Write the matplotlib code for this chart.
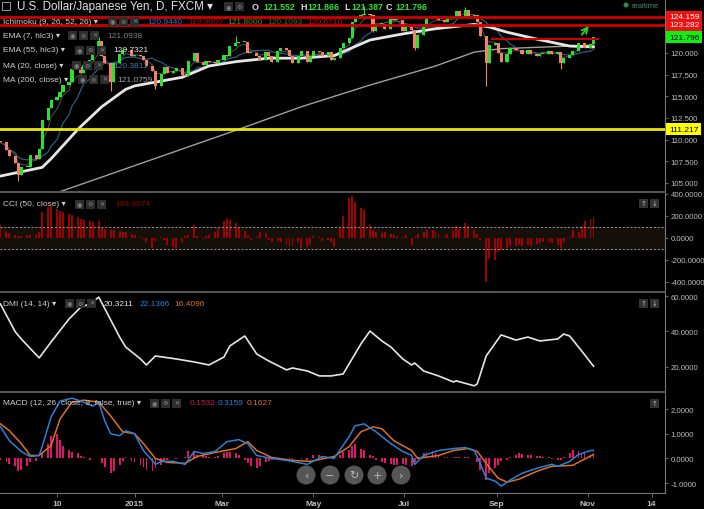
import matplotlib
matplotlib.use('Agg')
import matplotlib.pyplot as plt
import matplotlib.dates as mdates
from matplotlib.patches import Rectangle, Circle
import numpy as np
import pandas as pd

plt.rcParams['font.family'] = ['Liberation Sans', 'DejaVu Sans']

# USD/JPY, one candle per two business days from 2014-10-03
closes = [109.7, 108.8, 108.1, 107.3, 105.9, 106.9, 106.9, 108.2, 107.8, 108.9, 112.3,
          113.6, 114.6, 114.9, 115.5, 116.3, 116.6, 118.2, 118.4, 117.7, 118.6,
          119.2, 119.8, 121.4, 119.6, 118.8, 116.6, 118.8, 119.9, 120.4, 120.4, 119.6,
          119.8, 119.6, 119.2, 118.5, 117.9, 116.2, 117.6, 118.4, 117.7, 117.9, 118.3,
          117.5, 117.3, 119.1, 120.0, 119.0, 118.6, 119.1, 119.0, 118.9, 119.2,
          119.8, 119.7, 120.8, 121.1, 121.3, 121.3, 120.0, 120.0, 119.7, 119.2, 120.1,
          119.7, 119.0, 120.2, 120.6, 120.3, 119.6, 118.9, 119.6, 120.2, 119.0, 119.6,
          120.2, 120.1, 119.7, 120.1, 119.2, 119.4, 120.6, 121.1, 121.7, 123.6, 124.1,
          124.4, 124.5, 124.4, 122.5, 123.4, 123.4, 122.8, 123.9, 123.8, 123.8, 122.5,
          123.2, 122.6, 120.6, 122.1, 123.4, 124.0, 124.3, 124.0, 123.8, 123.6, 124.1,
          124.0, 124.8, 124.3, 125.0, 124.3, 124.4, 123.6, 122.0, 118.9, 120.9, 121.2,
          120.0, 119.0, 119.9, 120.6, 120.3, 120.3, 119.9, 120.3, 119.9, 119.7, 119.9,
          119.9, 120.2, 119.9, 120.1, 118.9, 119.4, 119.8, 120.2, 121.1, 121.1, 120.6,
          121.0, 121.8]
first_open = 109.9
hi_idx = [23, 56, 87, 111]
hi_val = [121.85, 122.0, 125.4, 125.3]
lo_idx = [4, 26, 37, 89, 99, 116, 134]
lo_val = [105.2, 115.6, 115.85, 122.4, 120.4, 116.15, 118.1]

ema55_idx = [0, 10, 12, 18, 24, 30, 32, 43, 50, 56, 64, 72, 80, 84, 88, 96, 104, 113, 117, 121, 128, 136, 142]
ema55_val = [105.8, 106.8, 107.8, 111.2, 113.8, 115.8, 116.2, 117.2, 118.5, 119.0, 119.4, 119.4,
             119.7, 120.6, 121.5, 122.2, 122.8, 123.3, 123.0, 122.4, 121.6, 120.8, 120.7]
ma200_idx = [0, 14, 57, 72, 88, 104, 113, 120, 142]
ma200_val = [101.7, 104.0, 111.2, 113.8, 116.3, 118.5, 120.1, 120.5, 120.9]

levels_red = [124.159, 123.282]
level_yellow = 111.217
last_close = 121.796
neck_dates = ['2015-08-29', '2015-11-08']
neck_level = 121.6
arrow_from = ('2015-10-27', 121.85)
arrow_to = ('2015-11-03', 123.35)

cci = [120, 60, 45, 30, 20, 20, 25, 25, 30, 55,
       240, 280, 295, 260, 245, 235, 215, 205, 190, 170,
       160, 150, 145, 150, 90, 80, 70, 75, 60, 55,
       50, 35, 30, 15, -10, -40, -95, -30, 10, -20,
       -60, -80, -95, -40, 20, 30, 120, 20, -10, 15,
       30, 55, 90, 150, 175, 165, 140, 95, 60, 30,
       -15, 10, 50, 45, -20, -40, -30, -35, -60, -80,
       -75, -40, -90, -85, -60, 20, 5, -30, -20, -40,
       -85, 90, 200, 360, 380, 330, 270, 250, 120, 70,
       55, 45, 50, 40, 25, 15, 10, 25, -60, 10,
       40, 55, 75, 70, 55, 35, 20, 40, 60, 110,
       80, 140, 110, 75, 40, -20, -400, -180, -200, -130,
       -110, -95, -75, -70, -65, -70, -60, -70, -55, -50,
       -40, -40, -45, -60, -90, -40, 10, 70, 50, 110,
       150, 170, 194]

dmi_idx = [0, 3, 5, 9, 12, 16, 19, 21, 23, 28, 30, 33, 35, 37, 42, 46, 50, 53, 55, 58,
           61, 64, 68, 70, 73, 76, 79, 82, 86, 88, 91, 93, 96, 98, 99, 101, 105, 108, 109,
           113, 114, 116, 120, 123, 126, 129, 133, 135, 136, 139, 142]
dmi_val = [55.5, 39.7, 35.7, 25.0, 34.0, 47.0, 53.8, 55.5, 59.4, 36.8, 31.2, 24.4, 21.0, 26.1,
           24.4, 22.7, 21.0, 25.5, 31.8, 37.4, 27.2, 23.3, 18.2, 19.3, 17.6, 14.8, 14.8, 15.9,
           33.0, 40.2, 34.6, 31.2, 24.4, 21.0, 22.1, 17.6, 14.8, 11.4, 12.0, 9.2, 10.3, 26.1,
           38.0, 35.1, 36.8, 34.6, 35.7, 38.5, 37.4, 29.0, 20.3]

macd_idx = [0, 2, 5, 7, 9, 10, 12, 14, 17, 19, 22, 23, 25, 26, 28, 30, 32, 34, 37, 38,
            41, 44, 46, 48, 51, 54, 57, 59, 61, 65, 68, 70, 73, 77, 80, 83, 85, 87, 90, 93,
            96, 98, 99, 101, 105, 108, 111, 113, 115, 116, 118, 120, 122, 125, 128, 132,
            133, 136, 138, 141, 142]
macd_val = [1.28, 0.72, 0.28, 0.08, 0.12, 0.48, 1.68, 2.32, 2.44, 2.32, 2.12, 2.28, 1.52, 1.0,
            0.92, 1.12, 1.0, 0.32, -0.24, -0.12, -0.12, -0.24, 0.28, 0.2, 0.28, 0.68, 0.76,
            0.6, 0.12, 0.0, -0.08, -0.12, -0.24, 0.08, 0.0, 0.88, 1.32, 1.4, 1.08, 0.6, 0.28,
            0.12, -0.24, 0.12, 0.32, 0.4, 0.44, 0.32, -0.2, -0.8, -0.92, -1.12, -0.88, -0.6,
            -0.4, -0.24, -0.32, -0.12, 0.16, 0.32, 0.32]
sig_idx = [0, 2, 5, 7, 9, 12, 14, 17, 20, 23, 26, 29, 32, 34, 37, 40, 44, 47, 51, 56,
           59, 61, 65, 70, 74, 80, 83, 86, 89, 91, 94, 98, 100, 105, 108, 112, 114, 116,
           119, 121, 124, 128, 132, 137, 142]
sig_val = [1.4, 1.12, 0.6, 0.12, 0.12, 0.52, 1.6, 2.28, 2.36, 2.28, 1.72, 1.08, 1.0, 0.6, 0.0,
           -0.16, -0.2, 0.08, 0.24, 0.4, 0.68, 0.32, 0.04, -0.08, -0.12, 0.08, 0.48, 1.08,
           1.28, 1.2, 0.72, 0.32, 0.0, 0.12, 0.32, 0.4, 0.28, -0.2, -0.8, -0.96, -0.84, -0.52,
           -0.32, -0.28, 0.16]
macd_hist = [-0.07, -0.15, -0.22, -0.3, -0.5, -0.45, -0.3, -0.15, -0.1, 0.02,
             0.2, 0.6, 0.9, 1.0, 0.75, 0.5, 0.35, 0.25, 0.2, 0.1,
             0.05, -0.05, 0.03, 0.02, -0.2, -0.35, -0.6, -0.5, -0.25, -0.12,
             0.07, -0.1, -0.15, -0.25, -0.35, -0.45, -0.5, -0.4, -0.25, -0.12,
             -0.05, 0.03, -0.03, 0.02, 0.05, 0.3, 0.3, 0.15, 0.12, 0.1,
             0.06, 0.05, 0.08, 0.2, 0.25, 0.27, 0.22, 0.15, -0.05, -0.2,
             -0.3, -0.4, -0.3, -0.15, -0.1, -0.06, -0.04, -0.03, 0.02, -0.03,
             -0.05, 0.03, -0.03, -0.06, 0.03, 0.12, 0.13, 0.1, 0.04, 0.02,
             0.05, 0.15, 0.25, 0.35, 0.5, 0.6, 0.4, 0.33, 0.15, 0.08,
             -0.05, -0.13, -0.2, -0.22, -0.25, -0.25, -0.22, -0.25, -0.3, -0.15,
             0.05, 0.2, 0.28, 0.3, 0.22, 0.12, 0.07, 0.05, 0.04, 0.06,
             0.05, 0.07, 0.04, 0.02, -0.13, -0.45, -0.87, -0.6, -0.4, -0.25,
             -0.12, -0.05, 0.05, 0.15, 0.2, 0.18, 0.15, 0.12, 0.1, 0.08,
             0.06, 0.04, -0.03, -0.07, -0.05, 0.05, 0.2, 0.33, 0.3, 0.22,
             0.2, 0.15, 0.15]

date_ticks = ['2014-11-10', '2015-01-01', '2015-03-01', '2015-05-01', '2015-07-01',
              '2015-09-01', '2015-11-01', '2015-12-14']
date_labels = ['10', '2015', 'Mar', 'May', 'Jul', 'Sep', 'Nov', '14']

dates = pd.date_range('2014-10-03', periods=len(closes), freq='2B')
xd = mdates.date2num(dates)
close = pd.Series(closes)
opens = np.array([first_open] + closes[:-1])
c = np.array(closes)
highs = np.maximum(opens, c)
lows = np.minimum(opens, c)
for i, v in zip(hi_idx, hi_val):
    highs[i] = v
for i, v in zip(lo_idx, lo_val):
    lows[i] = v
ema7 = close.ewm(span=4, adjust=False).mean()
ma20 = close.rolling(10, min_periods=1).mean()

W, H = 704, 510
BG = 'black'
GRAY = '#bdbdbd'
fig = plt.figure(figsize=(W / 100, H / 100), dpi=100, facecolor=BG)


def panel(top, bottom):
    a = fig.add_axes([0, 1 - bottom / H, 665 / W, (bottom - top) / H])
    a.set_facecolor(BG)
    a.set_xlim(mdates.date2num(pd.Timestamp('2014-10-02 17:00')),
               mdates.date2num(pd.Timestamp('2015-12-23')))
    for s in ['left', 'bottom']:
        a.spines[s].set_visible(False)
    a.spines['right'].set_color('#777777')
    a.spines['top'].set_color('#555555')
    a.spines['top'].set_linewidth(1.5)
    a.yaxis.tick_right()
    a.tick_params(axis='y', colors='#777777', labelcolor=GRAY, labelsize=5.6, length=2.5,
                  width=0.6, pad=1.5)
    a.tick_params(axis='x', bottom=False, labelbottom=False)
    return a


def fx(x):
    return x / W


def fy(y):
    return 1 - y / H


ax = panel(0, 193)
ax.spines['top'].set_visible(False)
ax_cci = panel(193, 293)
ax_dmi = panel(293, 393)
ax_macd = panel(393, 494)
ax_macd.spines['bottom'].set_visible(True)
ax_macd.spines['bottom'].set_color('#777777')

# ---- main price panel
ax.set_ylim(103.96, 126.23)
yt = [105, 107.5, 110, 112.5, 115, 117.5, 120]
ax.set_yticks(yt)
ax.set_yticklabels(['%.3f' % v for v in yt])

ax.plot(xd[ma200_idx], ma200_val, color='#a0a0a0', lw=1.0, zorder=2)
ax.plot(xd, ma20, color='#2a5d80', lw=0.9, zorder=2)
ax.plot(xd, ema7, color='#4a4a4a', lw=0.8, zorder=2)
ax.plot(xd[ema55_idx], ema55_val, color='#e6e6e6', lw=2.0, zorder=2)

cols = np.where(c >= opens, '#2ee02e', '#f0826a')
ax.vlines(xd, lows, highs, colors=cols, lw=0.8, zorder=3)
ax.bar(xd, np.maximum(np.abs(c - opens), 0.1), bottom=np.minimum(opens, c), width=2.1,
       color=cols, zorder=4)

for lv in levels_red:
    ax.axhline(lv, color='#d00000', lw=2, zorder=5)
ax.axhline(level_yellow, color='#e8e800', lw=2, zorder=5)
ax.plot(pd.to_datetime(neck_dates), [neck_level, neck_level], color='#d00000', lw=1.5, zorder=5)
ax.annotate('', xy=(mdates.date2num(pd.Timestamp(arrow_to[0])), arrow_to[1]),
            xytext=(mdates.date2num(pd.Timestamp(arrow_from[0])), arrow_from[1]),
            arrowprops=dict(arrowstyle='->', color='#22dd22', lw=1.3), zorder=6)

tr = ax.get_yaxis_transform()
for lv, fc, tc in [(levels_red[0], '#ee1111', 'white'), (levels_red[1], '#ee1111', 'white'),
                   (last_close, '#11ee11', 'black'), (level_yellow, '#ffff00', 'black')]:
    ax.text(1.006, lv, '%.3f' % lv, transform=tr, fontsize=6, color=tc, va='center',
            ha='left', clip_on=False, zorder=10,
            bbox=dict(boxstyle='square,pad=0.3', fc=fc, ec='none'))

# ---- CCI
ax_cci.set_ylim(-492, 418)
ax_cci.set_yticks([-400, -200, 0, 200, 400])
ax_cci.set_yticklabels(['%.4f' % v for v in [-400, -200, 0, 200, 400]])
ax_cci.axhspan(-100, 100, color='#15100a', zorder=0)
ax_cci.axhline(100, color='#999999', lw=0.7, ls=(0, (2, 2)), zorder=3)
ax_cci.axhline(-100, color='#999999', lw=0.7, ls=(0, (2, 2)), zorder=3)
ax_cci.bar(xd, cci, width=1.3, color='#a00000', zorder=2)

# ---- DMI
ax_dmi.set_ylim(5.7, 62.3)
ax_dmi.set_yticks([20, 40, 60])
ax_dmi.set_yticklabels(['%.4f' % v for v in [20, 40, 60]])
ax_dmi.plot(xd[dmi_idx], dmi_val, color='#e6e6e6', lw=1.2)

# ---- MACD
ax_macd.set_ylim(-1.4, 2.69)
ax_macd.set_yticks([-1, 0, 1, 2])
ax_macd.set_yticklabels(['%.4f' % v for v in [-1, 0, 1, 2]])
ax_macd.bar(xd, macd_hist, width=1.2, color='#e0146a', zorder=2)
ax_macd.plot(xd[sig_idx], sig_val, color='#e07020', lw=1.1, zorder=3)
ax_macd.plot(xd[macd_idx], macd_val, color='#2a82d8', lw=1.1, zorder=4)
ax_macd.set_xticks(mdates.date2num(pd.to_datetime(date_ticks)))
ax_macd.set_xticklabels(date_labels)
ax_macd.tick_params(axis='x', bottom=True, labelbottom=True, colors='#777777',
                    labelcolor=GRAY, labelsize=6, length=3, width=0.6, pad=2)
for t in ax_macd.get_xticklabels():
    t.set_fontweight('bold')

# ---- header texts
fig.text(fx(17), fy(7), 'U.S. Dollar/Japanese Yen, D, FXCM \u25BE', color='#e0e0e0',
         fontsize=8.4, va='center')
for x, s, col in [(252, 'O', '#e0e0e0'), (263, '121.552', '#2ee02e'),
                  (300, 'H', '#e0e0e0'), (307, '121.866', '#2ee02e'),
                  (344, 'L', '#e0e0e0'), (351, '121.387', '#2ee02e'),
                  (386, 'C', '#e0e0e0'), (395, '121.796', '#2ee02e')]:
    fig.text(fx(x), fy(7), s, color=col, fontsize=6.4, va='center', fontweight='bold')

rows = [
    (22, 'Ichimoku (9, 26, 52, 26) \u25BE', 108,
     [(147, '120.9440', '#1a78d0'), (188, '119.9600', '#8a1010'), (227, '121.8000', '#2e9a2e'),
      (267, '120.1093', '#1f7a1f'), (307, '120.6710', '#b01010')]),
    (36, 'EMA (7, hlc3) \u25BE', 68, [(107, '121.0938', '#808080')]),
    (51, 'EMA (55, hlc3) \u25BE', 75, [(113, '120.7321', '#e6e6e6')]),
    (66, 'MA (20, close) \u25BE', 72, [(113, '120.3811', '#3a84b0')]),
    (80, 'MA (200, close) \u25BE', 78, [(117, '121.0759', '#a0a0a0')]),
    (205, 'CCI (50, close) \u25BE', 75, [(115, '193.9074', '#8a0000')]),
    (304, 'DMI (14, 14) \u25BE', 65, [(104, '20.3211', '#e6e6e6'), (140, '22.1366', '#1a88e0'),
                                       (174, '16.4096', '#e07020')]),
    (404, 'MACD (12, 26, close, 9, false, true) \u25BE', 150,
     [(190, '0.1532', '#c8185a'), (218, '0.3159', '#2a82d8'), (247, '0.1627', '#e07020')]),
]
for y, label, icon_x, vals in rows:
    fig.text(fx(3), fy(y), label, color='#d0d0d0', fontsize=6, va='center')
    for k, g in enumerate(['\u25C9', '\u2699', '\u2715']):
        fig.patches.append(Rectangle(((icon_x + 11 * k) / 100, (H - y - 5) / 100), 0.09, 0.09,
                                     transform=fig.dpi_scale_trans, fc='#2e2e2e', ec='none'))
        fig.text(fx(icon_x + 11 * k + 4.5), fy(y), g, color='#8a8a8a', fontsize=4.5,
                 ha='center', va='center', family='DejaVu Sans')
    for x, s, col in vals:
        fig.text(fx(x), fy(y), s, color=col, fontsize=6, va='center')

for k, g in enumerate(['\u25C9', '\u2699']):
    fig.patches.append(Rectangle(((224 + 11 * k) / 100, (H - 12) / 100), 0.09, 0.09,
                                 transform=fig.dpi_scale_trans, fc='#2e2e2e', ec='none'))
    fig.text(fx(228.5 + 11 * k), fy(7.5), g, color='#8a8a8a', fontsize=4.5, ha='center',
             va='center', family='DejaVu Sans')
fig.patches.append(Rectangle((2 / 100, (H - 11) / 100), 0.08, 0.08,
                             transform=fig.dpi_scale_trans, fc='none', ec='#999999', lw=0.7))

fig.patches.append(Circle((626 / 100, (H - 6) / 100), 0.025, transform=fig.dpi_scale_trans,
                          fc='#2e8b57', ec='none'))
fig.text(fx(631), fy(6), 'realtime', color='#3f8f66', fontsize=5.5, va='center')

# up/down buttons
for x, y, g in [(639, 204, '\u2191'), (650, 204, '\u2193'), (639, 304, '\u2191'),
                (650, 304, '\u2193'), (650, 404, '\u2191')]:
    fig.patches.append(Rectangle((x / 100, (H - y - 4.5) / 100), 0.09, 0.09,
                                 transform=fig.dpi_scale_trans, fc='#333333', ec='none'))
    fig.text(fx(x + 4.5), fy(y), g, color='#bbbbbb', fontsize=5, ha='center', va='center',
             family='DejaVu Sans')

# navigation buttons
for x, g in [(306, '\u2039'), (330, '\u2212'), (354, '\u21BB'), (377, '+'), (401, '\u203A')]:
    fig.patches.append(Circle((x / 100, (H - 476) / 100), 0.095, transform=fig.dpi_scale_trans,
                              fc='#666666', ec='none', alpha=0.85, zorder=20))
    fig.text(fx(x), fy(476), g, color='#bbbbbb', fontsize=8, ha='center', va='center',
             family='DejaVu Sans', zorder=21)

fig.savefig('out.png', dpi=100, facecolor=BG)
